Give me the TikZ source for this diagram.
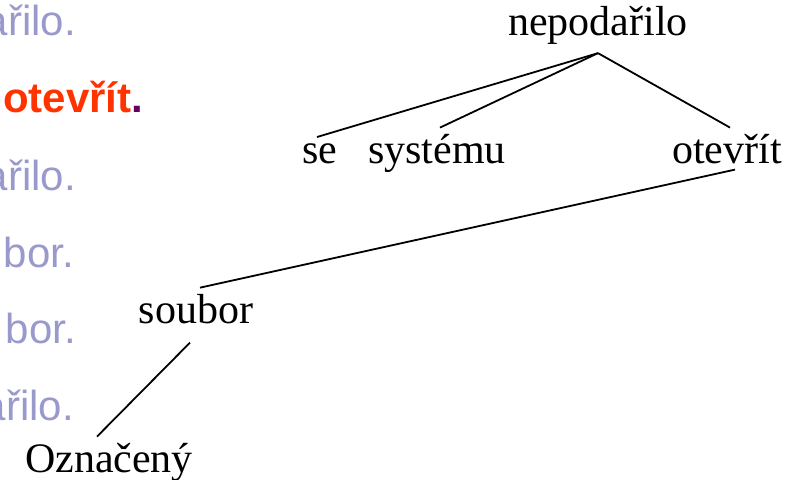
\documentclass[tikz,border=0pt]{standalone}
\usepackage{fontspec}
\setmainfont{Liberation Serif}
\newfontfamily\slidefont{Liberation Sans}
\definecolor{faded}{HTML}{9999CC}
\definecolor{hilite}{HTML}{FF3300}
\definecolor{stopmark}{HTML}{660066}
\tikzset{
  word/.style={font=\fontsize{42}{50}\selectfont, inner xsep=0pt, inner ysep=6pt, anchor=base},
  branch/.style={draw=black, line width=1.8pt},
  tail/.style={font=\slidefont\fontsize{42}{50}\selectfont, text=faded, inner sep=0pt, anchor=base east}
}

\begin{document}
\begin{tikzpicture}[x=1pt,y=-1pt]
  \useasboundingbox (0,0) rectangle (791,479);

  % sentence endings, cut off at the left edge
  \begin{scope}
    \clip (0,0) rectangle (200,479);
    \node[tail] (t1) at (76,35) {ařilo.};
    \node[tail,anchor=base west] (t2) at (3,112)
      {\textcolor{hilite}{\textbf{otevřít}}\textcolor{stopmark}{\textbf{.}}};
    \node[tail] (t3) at (76,190) {ařilo.};
    \node[tail] (t4) at (74,267) {bor.};
    \node[tail] (t5) at (76,343) {bor.};
    \node[tail] (t6) at (74,420) {ařilo.};
  \end{scope}

  % dependency tree
  \node[word] (nepodarilo) at (598,35) {nepodařilo};
  \node[word] (se) at (320,163) {se};
  \node[word] (systemu) at (437,163) {systému};
  \node[word] (otevrit) at (727,163) {otevřít};
  \node[word] (soubor) at (196,323) {soubor};
  \node[word] (oznaceny) at (109,472) {Označený};

  \draw[branch] ([yshift=-3pt]nepodarilo.south) -- ([xshift=-3pt]se.north);
  \draw[branch] ([yshift=-3pt]nepodarilo.south) -- ([xshift=3pt]systemu.north);
  \draw[branch] ([yshift=-3pt]nepodarilo.south) -- ([xshift=3pt]otevrit.north);
  \draw[branch] ([xshift=8pt]otevrit.south) -- ([xshift=4pt]soubor.north);
  \draw[branch] ([xshift=-6pt,yshift=-13pt]soubor.south) -- ([xshift=-12pt]oznaceny.north);
\end{tikzpicture}
\end{document}
